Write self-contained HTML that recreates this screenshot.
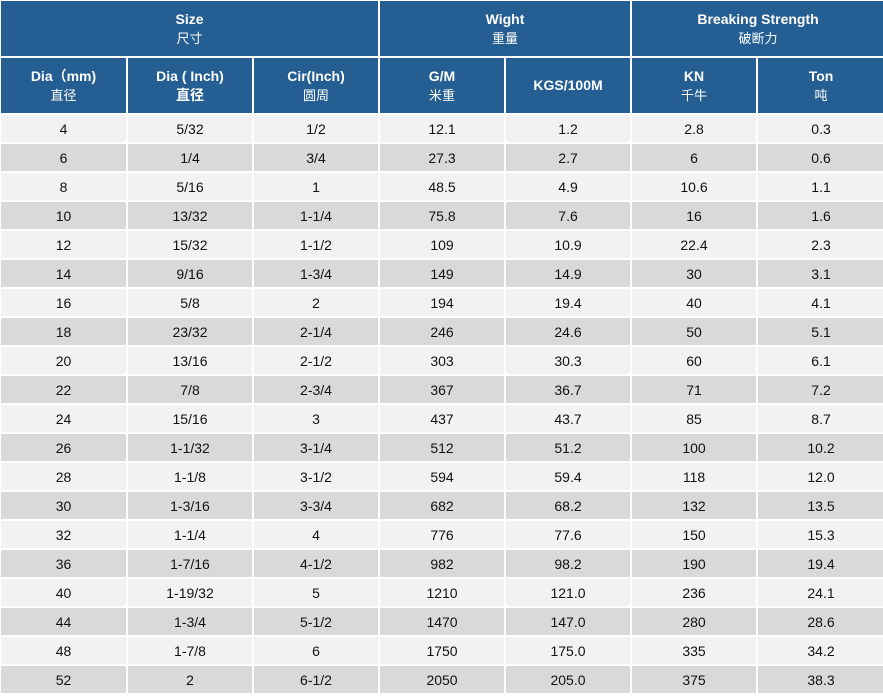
<!DOCTYPE html>
<html><head><meta charset="utf-8"><style>
body{margin:0;width:883px;height:696px;background:#fff;overflow:hidden;font-family:"Liberation Sans","Noto Sans CJK SC",sans-serif;}
table{border-collapse:collapse;table-layout:fixed;position:absolute;left:-1px;top:-1px;width:885px;}
td{border:2px solid #fff;text-align:center;padding:0;font-size:14px;color:#111;height:27px;}
th{border:2px solid #fff;background:#245e92;color:#fff;font-size:14px;font-weight:bold;height:55px;padding:0;line-height:19px;}
th span{font-weight:normal;font-size:13px}
tr.a td{background:#f2f2f2}
tr.b td{background:#d9d9d9}
</style></head><body>
<table>
<colgroup><col style="width:127px"><col style="width:126px"><col style="width:126px"><col style="width:126px"><col style="width:126px"><col style="width:126px"><col style="width:128px"></colgroup>
<tr><th colspan="3">Size<br><span>尺寸</span></th><th colspan="2">Wight<br><span>重量</span></th><th colspan="2">Breaking Strength<br><span>破断力</span></th></tr>
<tr><th>Dia（mm)<br><span>直径</span></th><th>Dia ( Inch)<br>直径</th><th>Cir(Inch)<br><span>圆周</span></th><th>G/M<br><span>米重</span></th><th>KGS/100M</th><th>KN<br><span>千牛</span></th><th>Ton<br><span>吨</span></th></tr>
<tr class="a"><td>4</td><td>5/32</td><td>1/2</td><td>12.1</td><td>1.2</td><td>2.8</td><td>0.3</td></tr>
<tr class="b"><td>6</td><td>1/4</td><td>3/4</td><td>27.3</td><td>2.7</td><td>6</td><td>0.6</td></tr>
<tr class="a"><td>8</td><td>5/16</td><td>1</td><td>48.5</td><td>4.9</td><td>10.6</td><td>1.1</td></tr>
<tr class="b"><td>10</td><td>13/32</td><td>1-1/4</td><td>75.8</td><td>7.6</td><td>16</td><td>1.6</td></tr>
<tr class="a"><td>12</td><td>15/32</td><td>1-1/2</td><td>109</td><td>10.9</td><td>22.4</td><td>2.3</td></tr>
<tr class="b"><td>14</td><td>9/16</td><td>1-3/4</td><td>149</td><td>14.9</td><td>30</td><td>3.1</td></tr>
<tr class="a"><td>16</td><td>5/8</td><td>2</td><td>194</td><td>19.4</td><td>40</td><td>4.1</td></tr>
<tr class="b"><td>18</td><td>23/32</td><td>2-1/4</td><td>246</td><td>24.6</td><td>50</td><td>5.1</td></tr>
<tr class="a"><td>20</td><td>13/16</td><td>2-1/2</td><td>303</td><td>30.3</td><td>60</td><td>6.1</td></tr>
<tr class="b"><td>22</td><td>7/8</td><td>2-3/4</td><td>367</td><td>36.7</td><td>71</td><td>7.2</td></tr>
<tr class="a"><td>24</td><td>15/16</td><td>3</td><td>437</td><td>43.7</td><td>85</td><td>8.7</td></tr>
<tr class="b"><td>26</td><td>1-1/32</td><td>3-1/4</td><td>512</td><td>51.2</td><td>100</td><td>10.2</td></tr>
<tr class="a"><td>28</td><td>1-1/8</td><td>3-1/2</td><td>594</td><td>59.4</td><td>118</td><td>12.0</td></tr>
<tr class="b"><td>30</td><td>1-3/16</td><td>3-3/4</td><td>682</td><td>68.2</td><td>132</td><td>13.5</td></tr>
<tr class="a"><td>32</td><td>1-1/4</td><td>4</td><td>776</td><td>77.6</td><td>150</td><td>15.3</td></tr>
<tr class="b"><td>36</td><td>1-7/16</td><td>4-1/2</td><td>982</td><td>98.2</td><td>190</td><td>19.4</td></tr>
<tr class="a"><td>40</td><td>1-19/32</td><td>5</td><td>1210</td><td>121.0</td><td>236</td><td>24.1</td></tr>
<tr class="b"><td>44</td><td>1-3/4</td><td>5-1/2</td><td>1470</td><td>147.0</td><td>280</td><td>28.6</td></tr>
<tr class="a"><td>48</td><td>1-7/8</td><td>6</td><td>1750</td><td>175.0</td><td>335</td><td>34.2</td></tr>
<tr class="b"><td>52</td><td>2</td><td>6-1/2</td><td>2050</td><td>205.0</td><td>375</td><td>38.3</td></tr>
</table>
</body></html>
